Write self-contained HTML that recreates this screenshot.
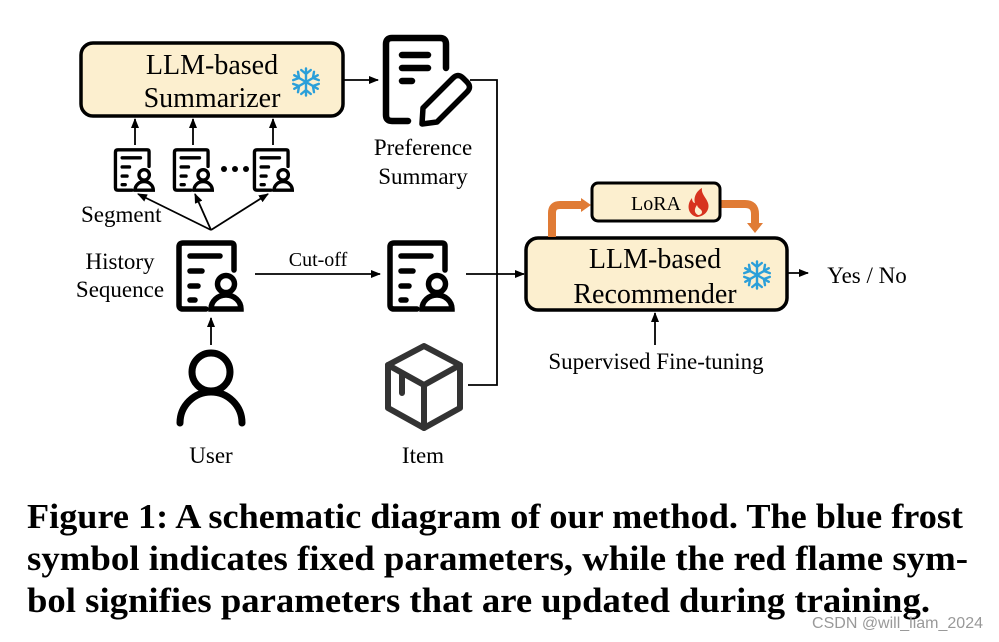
<!DOCTYPE html>
<html><head><meta charset="utf-8"><style>
html,body{margin:0;padding:0;background:#fff}
svg{display:block}
text{font-family:"Liberation Serif",serif;fill:#000}
</style></head><body>
<svg width="999" height="642" viewBox="0 0 999 642" xmlns="http://www.w3.org/2000/svg">
<defs>
<marker id="ar" markerWidth="10" markerHeight="8" refX="9" refY="4" orient="auto" markerUnits="userSpaceOnUse"><path d="M0,0 L10,4 L0,8 z" fill="#000"/></marker>
<symbol id="doc" viewBox="0 0 70 72" overflow="visible">
<g fill="none" stroke="#000" stroke-width="5.5" stroke-linecap="round">
<path d="M58,30 V6 Q58,3 55,3 H7 Q3,3 3,7 V65 Q3,69 7,69 H30"/>
<path d="M14,16 H44 M14,31 H26 M14,46 H22 M14,60 H19"/>
<circle cx="50" cy="44" r="8.5"/>
<path d="M35,69 A15,14 0 0 1 65,69 Z"/>
</g></symbol>
<symbol id="snow" viewBox="-20 -20 40 40" overflow="visible">
<g stroke="#2b9fd9" stroke-width="3" fill="none" stroke-linecap="round">
<g id="arm"><path d="M0,0 V-17 M-6,-15 L0,-10 L6,-15"/></g>
<use href="#arm" transform="rotate(60)"/><use href="#arm" transform="rotate(120)"/>
<use href="#arm" transform="rotate(180)"/><use href="#arm" transform="rotate(240)"/><use href="#arm" transform="rotate(300)"/>
</g></symbol>
</defs>

<!-- Summarizer -->
<rect x="81" y="43" width="262" height="73" rx="12" fill="#fcefcf" stroke="#000" stroke-width="3.5"/>
<text x="212" y="74" font-size="28" text-anchor="middle">LLM-based</text>
<text x="212" y="107" font-size="28" text-anchor="middle">Summarizer</text>
<use href="#snow" x="290" y="66" width="32" height="32"/>
<line x1="343" y1="80" x2="378" y2="80" stroke="#000" stroke-width="1.8" marker-end="url(#ar)"/>

<!-- Preference summary icon -->
<g fill="none" stroke="#000" stroke-width="6.5" stroke-linecap="round" stroke-linejoin="round">
<path d="M446,68 V44 Q446,38 440,38 H392 Q386,38 386,44 V115 Q386,121 392,121 H408"/>
<path d="M402,55 H428 M402,68 H428 M402,81 H412"/>
<path d="M422,124 L423,108 L453,78 Q458,73 463,78 L467,82 Q472,87 467,92 L437,122 Z" stroke-width="5.5"/>
</g>
<text x="423" y="155" font-size="23" text-anchor="middle">Preference</text>
<text x="423" y="184" font-size="23" text-anchor="middle">Summary</text>

<!-- connector lines right -->
<path d="M470,80 H497 V385 H468" fill="none" stroke="#000" stroke-width="1.8"/>
<line x1="466" y1="274" x2="497" y2="274" stroke="#000" stroke-width="1.8"/>
<line x1="497" y1="274" x2="524" y2="274" stroke="#000" stroke-width="1.8" marker-end="url(#ar)"/>

<!-- small docs -->
<use href="#doc" x="113" y="148" width="44" height="44"/>
<use href="#doc" x="172" y="148" width="44" height="44"/>
<use href="#doc" x="252" y="148" width="44" height="44"/>
<circle cx="224" cy="169" r="3" fill="#000"/><circle cx="235" cy="169" r="3" fill="#000"/><circle cx="246" cy="169" r="3" fill="#000"/>
<g stroke="#000" stroke-width="1.8">
<line x1="135" y1="145" x2="135" y2="119" marker-end="url(#ar)"/>
<line x1="193" y1="145" x2="193" y2="119" marker-end="url(#ar)"/>
<line x1="273" y1="145" x2="273" y2="119" marker-end="url(#ar)"/>
<line x1="211" y1="230" x2="138" y2="194" marker-end="url(#ar)"/>
<line x1="211" y1="230" x2="195" y2="194" marker-end="url(#ar)"/>
<line x1="211" y1="230" x2="268" y2="194" marker-end="url(#ar)"/>
</g>
<text x="81" y="222" font-size="23">Segment</text>

<text x="120" y="269" font-size="23" text-anchor="middle">History</text>
<text x="120" y="297" font-size="23" text-anchor="middle">Sequence</text>
<use href="#doc" x="176" y="240" width="70" height="72"/>
<line x1="255" y1="274" x2="380" y2="274" stroke="#000" stroke-width="1.8" marker-end="url(#ar)"/>
<text x="318" y="266" font-size="20" text-anchor="middle">Cut-off</text>
<use href="#doc" x="387" y="240" width="70" height="72"/>

<!-- user -->
<line x1="211" y1="345" x2="211" y2="318" stroke="#000" stroke-width="1.8" marker-end="url(#ar)"/>
<circle cx="211" cy="372" r="19" fill="none" stroke="#000" stroke-width="7"/>
<path d="M180,423 A31,31 0 0 1 242,423" fill="none" stroke="#000" stroke-width="7" stroke-linecap="round"/>
<text x="211" y="463" font-size="23" text-anchor="middle">User</text>

<!-- item cube -->
<g fill="none" stroke="#333" stroke-width="6" stroke-linejoin="round" stroke-linecap="round">
<path d="M424,346 L460,365 V408 L424,428 L388,408 V365 Z"/>
<path d="M388,365 L424,385 L460,365 M424,385 V428 M402,373 V393"/>
</g>
<text x="423" y="463" font-size="23" text-anchor="middle">Item</text>

<!-- Recommender -->
<rect x="526" y="238" width="261" height="72" rx="12" fill="#fcefcf" stroke="#000" stroke-width="3.5"/>
<text x="655" y="268" font-size="28" text-anchor="middle">LLM-based</text>
<text x="655" y="303" font-size="28" text-anchor="middle">Recommender</text>
<use href="#snow" x="741" y="259" width="32" height="32"/>
<line x1="787" y1="273" x2="808" y2="273" stroke="#000" stroke-width="1.8" marker-end="url(#ar)"/>
<text x="867" y="283" font-size="23" text-anchor="middle">Yes / No</text>
<line x1="655" y1="345" x2="655" y2="313" stroke="#000" stroke-width="1.8" marker-end="url(#ar)"/>
<text x="656" y="369" font-size="23" text-anchor="middle">Supervised Fine-tuning</text>

<!-- LoRA -->
<path d="M552,237 V213 Q552,205 560,205 H582" fill="none" stroke="#e07b35" stroke-width="8"/>
<path d="M581,198 L591,205 L581,212 Z" fill="#e07b35"/>
<path d="M721,204 H745 Q755,204 755,214 V224" fill="none" stroke="#e07b35" stroke-width="8"/>
<path d="M747,223 L763,223 L755,233 Z" fill="#e07b35"/>
<rect x="592" y="183" width="128" height="38" rx="6" fill="#fcefcf" stroke="#000" stroke-width="3"/>
<text x="656" y="210" font-size="20" text-anchor="middle">LoRA</text>
<path d="M697,217 C688,215 686,205 692,198 C692,203 695,203 695,203 C693,196 698,190 702,188 C701,194 706,197 708,203 C710,209 706,216 697,217 Z" fill="#d7331f"/>
<path d="M698,215 C694,213 694,209 697,205 C698,209 702,209 702,212 C702,214 700,215 698,215 Z" fill="#fcefcf"/>

<!-- Caption -->
<g font-weight="bold" font-size="35">
<text x="27" y="528" textLength="936" lengthAdjust="spacingAndGlyphs">Figure 1: A schematic diagram of our method. The blue frost</text>
<text x="27" y="570" textLength="941" lengthAdjust="spacingAndGlyphs">symbol indicates fixed parameters, while the red flame sym-</text>
<text x="27" y="612" textLength="903" lengthAdjust="spacingAndGlyphs">bol signifies parameters that are updated during training.</text>
</g>
<text x="983" y="628" font-size="16" text-anchor="end" style="font-family:'Liberation Sans',sans-serif;fill:#999">CSDN @will_liam_2024</text>
</svg>
</body></html>
